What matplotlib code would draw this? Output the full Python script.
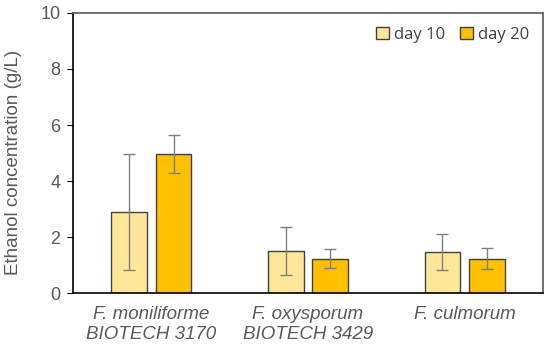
import matplotlib.pyplot as plt
import numpy as np

# Data
strains = ['F. moniliforme\nBIOTECH 3170', 'F. oxysporum\nBIOTECH 3429', 'F. culmorum']
day10 = [2.88, 1.50, 1.47]
day10_err = [2.07, 0.87, 0.64]
day20 = [4.95, 1.23, 1.23]
day20_err = [0.68, 0.33, 0.36]

plt.rcParams['font.family'] = ['Liberation Sans', 'DejaVu Sans']

fig = plt.figure(figsize=(5.5, 3.55), dpi=100)
ax = fig.add_axes([0.1327, 0.1746, 0.8546, 0.7888])

x = np.arange(len(strains))
w = 0.227
off = 0.142
err_kw = dict(ecolor='#7f7f7f', elinewidth=1.0, capsize=4, capthick=1.0)

ax.bar(x - off, day10, w, yerr=day10_err, color='#FFE699', edgecolor='#404040',
       linewidth=1.0, label='day 10', error_kw=err_kw, zorder=2)
ax.bar(x + off, day20, w, yerr=day20_err, color='#FFC000', edgecolor='#404040',
       linewidth=1.0, label='day 20', error_kw=err_kw, zorder=2)

ax.set_xlim(-0.5, 2.5)
ax.set_ylim(0, 10)
ax.set_yticks(np.arange(0, 11, 2))
ax.set_xticks(x)
ax.set_xticklabels(strains, style='italic', fontsize=13.5, color='#595959',
                   linespacing=1.3)
ax.tick_params(axis='x', length=0, pad=9)
ax.tick_params(axis='y', length=4, direction='out', labelsize=13,
               labelcolor='#595959', color='black', pad=5)

ax.set_ylabel('Ethanol concentration (g/L)', fontsize=13.5, color='#595959')
ax.yaxis.set_label_coords(-0.108, 0.465)

for s in ['left', 'bottom']:
    ax.spines[s].set_color('black')
    ax.spines[s].set_linewidth(1.2)
for s in ['top', 'right']:
    ax.spines[s].set_color('#595959')
    ax.spines[s].set_linewidth(1.2)

leg = ax.legend(loc='upper right', ncol=2, frameon=False,
                handlelength=0.75, handleheight=0.75, handletextpad=0.3,
                columnspacing=0.9, borderaxespad=0.45,
                prop={'family': 'Open Sans', 'size': 12})
for t in leg.get_texts():
    t.set_color('#404040')

fig.savefig('out.png', dpi=100)
